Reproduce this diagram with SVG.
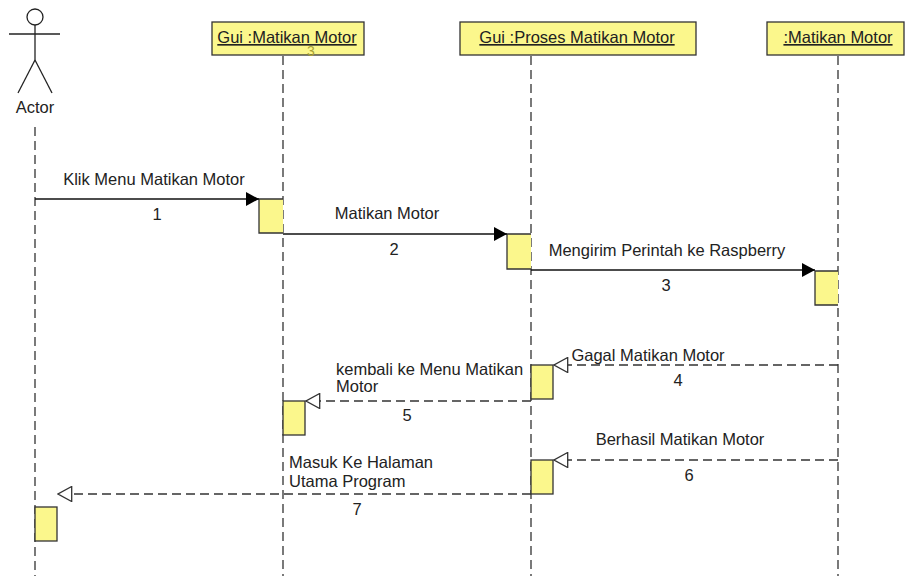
<svg xmlns="http://www.w3.org/2000/svg" width="908" height="576" viewBox="0 0 908 576">
<style>
text{font-family:"Liberation Sans",Arial,sans-serif;font-size:16.5px;fill:#222}
.hd{text-decoration:underline;text-anchor:middle}
.c{text-anchor:middle}
.box{fill:#fbf78c;stroke:#333;stroke-width:1.3}
.act{fill:#fbf78c;stroke:#333;stroke-width:1.3}
.life{stroke:#333;stroke-width:1.3;stroke-dasharray:9 5;fill:none}
.msg{stroke:#111;stroke-width:1.3;fill:none}
.ret{stroke:#333;stroke-width:1.3;stroke-dasharray:9 5;fill:none}
.fig{stroke:#222;stroke-width:1.3;fill:none}
</style>
<defs>
<marker id="filled" viewBox="0 0 14 14" refX="13" refY="7" markerWidth="14" markerHeight="14" markerUnits="userSpaceOnUse" orient="auto">
<path d="M0,0 L13,7 L0,14 Z" fill="#000"/>
</marker>
<marker id="open" viewBox="0 0 16 16" refX="14.5" refY="8" markerWidth="16" markerHeight="16" markerUnits="userSpaceOnUse" orient="auto">
<path d="M0.8,0.5 L14.5,8 L0.8,15.5 Z" fill="#fff" stroke="#333" stroke-width="1.3"/>
</marker>
</defs>
<rect width="908" height="576" fill="#fff"/>

<g id="actor">
<circle cx="35" cy="17" r="8" class="fig"/>
<line x1="9" y1="34" x2="60" y2="34" class="fig"/>
<line x1="35" y1="25" x2="35" y2="60" class="fig"/>
<line x1="35" y1="60" x2="18" y2="93" class="fig"/>
<line x1="35" y1="60" x2="52" y2="93" class="fig"/>
<text x="35" y="113" class="c">Actor</text>
<line x1="35" y1="127" x2="35" y2="576" class="life"/>
</g>

<g id="gui-matikan">
<rect x="212" y="22" width="152" height="33" class="box"/>
<text x="287" y="43" class="hd">Gui :Matikan Motor</text>
<text x="311" y="56" class="c" style="fill:#a8a035;font-size:14px">3</text>
<line x1="283" y1="56" x2="283" y2="576" class="life"/>
</g>

<g id="gui-proses">
<rect x="460" y="22" width="236" height="33" class="box"/>
<text x="577" y="43" class="hd">Gui :Proses Matikan Motor</text>
<line x1="531" y1="56" x2="531" y2="576" class="life"/>
</g>

<g id="matikan-motor">
<rect x="767" y="22" width="137" height="33" class="box"/>
<text x="838" y="43" class="hd">:Matikan Motor</text>
<line x1="838" y1="56" x2="838" y2="576" class="life"/>
</g>

<g id="activations">
<path d="M283,199 H259 V233 H283" class="act"/>
<path d="M531,234 H507 V269 H531" class="act"/>
<path d="M838,271 H815 V305 H838" class="act"/>
<rect x="531" y="365" width="22" height="34" class="act"/>
<rect x="283" y="401" width="22" height="34" class="act"/>
<rect x="531" y="460" width="22" height="34" class="act"/>
<rect x="35" y="507" width="22" height="34" class="act"/>
</g>

<g id="connectors">
<line x1="35" y1="199" x2="259" y2="199" class="msg" marker-end="url(#filled)"/>
<line x1="283" y1="234" x2="507" y2="234" class="msg" marker-end="url(#filled)"/>
<line x1="531" y1="270" x2="815" y2="270" class="msg" marker-end="url(#filled)"/>
<line x1="838" y1="365" x2="554" y2="365" class="ret" marker-end="url(#open)"/>
<line x1="531" y1="401" x2="306" y2="401" class="ret" marker-end="url(#open)"/>
<line x1="838" y1="460" x2="554" y2="460" class="ret" marker-end="url(#open)"/>
<line x1="531" y1="494" x2="58" y2="494" class="ret" marker-end="url(#open)"/>
</g>

<g id="labels">
<text x="154" y="185" class="c">Klik Menu Matikan Motor</text>
<text x="157" y="220" class="c">1</text>
<text x="387" y="219" class="c">Matikan Motor</text>
<text x="394" y="255" class="c">2</text>
<text x="667" y="256" class="c">Mengirim Perintah ke Raspberry</text>
<text x="666" y="291" class="c">3</text>
<text x="648" y="361" class="c">Gagal Matikan Motor</text>
<text x="678" y="386" class="c">4</text>
<text x="336" y="375">kembali ke Menu Matikan</text>
<text x="336" y="392">Motor</text>
<text x="407" y="421" class="c">5</text>
<text x="680" y="445" class="c">Berhasil Matikan Motor</text>
<text x="689" y="481" class="c">6</text>
<text x="289" y="468">Masuk Ke Halaman</text>
<text x="289" y="487">Utama Program</text>
<text x="357" y="515" class="c">7</text>
</g>
</svg>
